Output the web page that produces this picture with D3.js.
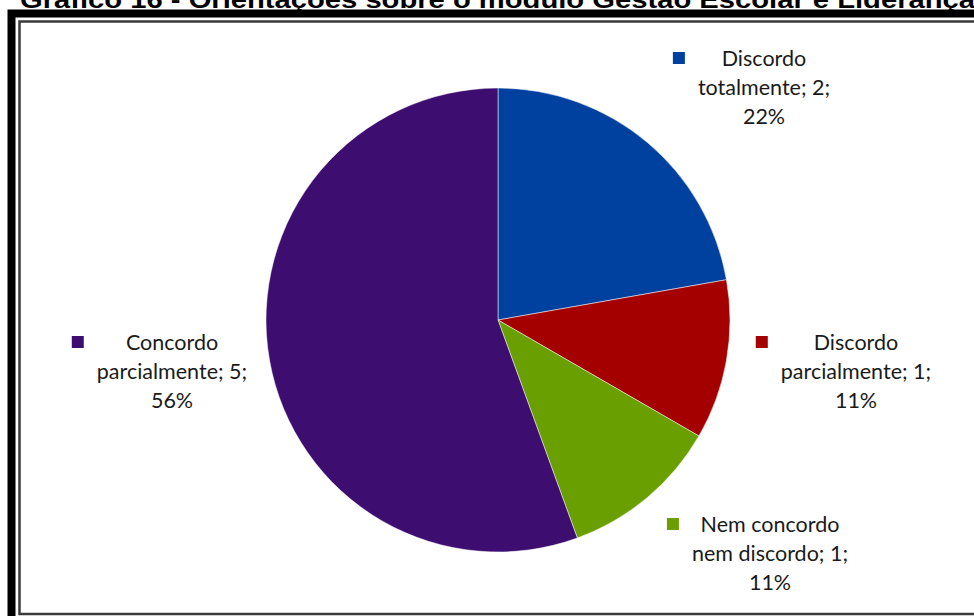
<!DOCTYPE html>
<html>
<head>
<meta charset="utf-8">
<script src="https://cdn.jsdelivr.net/npm/d3@7"></script>
<style>
  html, body { margin: 0; padding: 0; background: #fff; overflow: hidden; }
  svg { display: block; }
</style>
</head>
<body>
<svg id="chart" width="974" height="616"></svg>
<script>
// Respostas: Orientações sobre o módulo Gestão Escolar e Liderança
const categories = ["Discordo totalmente", "Discordo parcialmente", "Nem concordo nem discordo", "Concordo parcialmente"];
const values = [2, 1, 1, 5];
const colors = ["#00409F", "#A50000", "#6A9F00", "#3D0E70"];
const labelLines = [
  ["Discordo", "totalmente; 2;", "22%"],
  ["Discordo", "parcialmente; 1;", "11%"],
  ["Nem concordo", "nem discordo; 1;", "11%"],
  ["Concordo", "parcialmente; 5;", "56%"]
];
const title = "Gráfico 16 - Orientações sobre o módulo Gestão Escolar e Liderança";

// Layout of the label blocks (text centre x, first line baseline y)
const labelPos = [
  { x: 764, y: 66 },
  { x: 856, y: 350 },
  { x: 770, y: 532 },
  { x: 172, y: 350 }
];

const svg = d3.select("#chart");
const W = 974, H = 616;

// Title, partly above the top edge
svg.append("text")
  .attr("x", 20).attr("y", 8)
  .attr("font-family", "Liberation Sans, Arial, sans-serif")
  .attr("font-weight", "bold")
  .attr("font-size", 24)
  .attr("fill", "#000")
  .attr("textLength", 955)
  .attr("lengthAdjust", "spacingAndGlyphs")
  .text(title);

// Outer thick frame and inner thin frame
svg.append("rect")
  .attr("x", 11.5).attr("y", 13.5)
  .attr("width", W + 20).attr("height", H + 20)
  .attr("fill", "none").attr("stroke", "#000").attr("stroke-width", 8);
svg.append("rect")
  .attr("x", 19.5).attr("y", 21.5)
  .attr("width", W).attr("height", 592.5)
  .attr("fill", "#fff").attr("stroke", "#3a3a3a").attr("stroke-width", 2.5);

// Pie
const cx = 498, cy = 320, r = 232;
const pie = d3.pie().sort(null).value(d => d)(values);
const arc = d3.arc().innerRadius(0).outerRadius(r);

const g = svg.append("g").attr("transform", `translate(${cx},${cy})`);
g.selectAll("path")
  .data(pie)
  .join("path")
  .attr("d", arc)
  .attr("fill", (d, i) => colors[i])
  .attr("stroke", "#fff")
  .attr("stroke-width", 0.5);

// Data labels with legend key
const font = "Lato, 'Open Sans', sans-serif";
const fs = 21.5, lh = 29;
const labels = svg.append("g");
labelLines.forEach((lines, i) => {
  const p = labelPos[i];
  const t = labels.append("text")
    .attr("font-family", font)
    .attr("font-size", fs)
    .attr("fill", "#1a1a1a")
    .attr("text-anchor", "middle");
  lines.forEach((ln, j) => {
    t.append("tspan").attr("x", p.x).attr("y", p.y + j * lh).text(ln);
  });
  // key square left of the widest line
  const widest = d3.max(t.selectAll("tspan").nodes(), n => n.getComputedTextLength());
  labels.append("rect")
    .attr("x", p.x - widest / 2 - 12 - 13)
    .attr("y", p.y - 14)
    .attr("width", 12).attr("height", 12)
    .attr("fill", colors[i]);
});
</script>
</body>
</html>
